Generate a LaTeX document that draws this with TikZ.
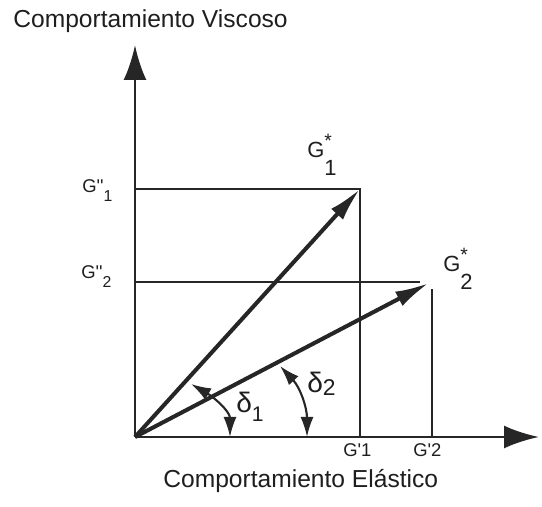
\documentclass[tikz,border=0pt]{standalone}
\usepackage{fontspec}
\newfontfamily\diagfont{Liberation Sans}
\usetikzlibrary{arrows.meta, positioning}
\definecolor{inkdark}{HTML}{262626}
\definecolor{textdark}{HTML}{1E1E1E}
\tikzset{
	axisline/.style={line width=1.7pt, draw=inkdark, -{Latex[length=0.7cm, width=0.46cm]}},
	vecline/.style={line width=2.3pt, draw=inkdark, -{Latex[length=0.68cm, width=0.32cm]}},
	guideline/.style={line width=1.1pt, draw=inkdark},
	anglearc/.style={line width=1.2pt, draw=inkdark,
		{Latex[length=0.4cm, width=0.26cm]}-{Latex[length=0.4cm, width=0.26cm]}},
	caption/.style={font=\diagfont\fontsize{14}{16}\selectfont, text=textdark, inner sep=0pt, anchor=base west},
	ticklabel/.style={font=\diagfont\fontsize{10.5}{12}\selectfont, text=textdark, inner sep=0pt, anchor=base west},
	veclabel/.style={font=\diagfont\fontsize{12.5}{14}\selectfont, text=textdark, inner sep=0pt, anchor=base west},
	anglelabel/.style={font=\diagfont\fontsize{16}{18}\selectfont, text=textdark, inner sep=0pt, anchor=base west}
}
\newcommand{\lowsub}[2]{\raisebox{#1}{\fontsize{9}{10}\selectfont #2}}
\newcommand{\starvec}[1]{G\rlap{\raisebox{0.5em}{\fontsize{11}{11}\selectfont *}}\raisebox{-0.8em}{#1}}

\begin{document}
\begin{tikzpicture}[x=0.02cm, y=0.02cm]
	\useasboundingbox (0,0) rectangle (542,507);
	% puntos
	\coordinate (orig) at (135,70);
	\coordinate (ytop) at (135,462);
	\coordinate (xend) at (539,70);
	\coordinate (gone) at (360,318);
	\coordinate (gtwo) at (429,224);
	\coordinate (gpp1) at (135,318);
	\coordinate (gpp2) at (135,225);
	\coordinate (hend2) at (420,225);
	\coordinate (gp1) at (360,70);
	\coordinate (vtop2) at (432,218);
	\coordinate (gp2) at (432,70);
	\coordinate (d1top) at (191,123);
	\coordinate (d1bot) at (230,70);
	\coordinate (d2top) at (280,141);
	\coordinate (d2bot) at (307,70);
	% ejes
	\draw[axisline] (orig) -- (ytop);
	\draw[axisline] (orig) -- (xend);
	% lineas de proyeccion
	\draw[guideline] (gpp1) -- (gone) -- (gp1);
	\draw[guideline] (gpp2) -- (hend2);
	\draw[guideline] (vtop2) -- (gp2);
	% vectores
	\draw[vecline] (orig) -- (gone);
	\draw[vecline] (orig) -- (gtwo);
	% angulos
	\draw[anglearc] (d1top) to[out=-30, in=90] (d1bot);
	\draw[anglearc] (d2top) to[out=-47, in=90] (d2bot);
	% textos
	\node[caption] (viscoso) at (13,479) {Comportamiento Viscoso};
	\node[caption] (elastico) at (163,19) {Comportamiento Elástico};
	\node[veclabel] (lone) at (307,349) {\starvec{1}};
	\node[veclabel] (ltwo) at (443,235) {\starvec{2}};
	\node[ticklabel] (lpp1) at (82,314) {G''\lowsub{-0.45em}{1}};
	\node[ticklabel] (lpp2) at (81,228) {G''\lowsub{-0.45em}{2}};
	\node[ticklabel] (lp1) at (343,50) {G'1};
	\node[ticklabel] (lp2) at (413,50) {G'2};
	\node[anglelabel] (ldelta1) at (236,94) {δ\raisebox{-0.3em}{\fontsize{12}{12}\selectfont 1}};
	\node[anglelabel] (ldelta2) at (307,114) {δ\raisebox{-0.1em}{\fontsize{13}{13}\selectfont 2}};
\end{tikzpicture}
\end{document}
